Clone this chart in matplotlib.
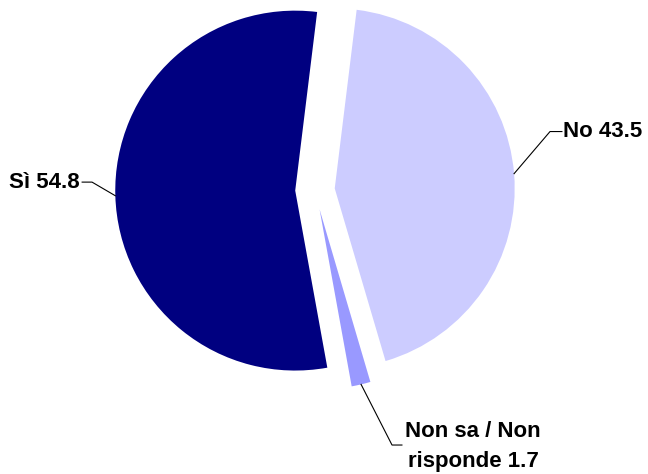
import numpy as np
import matplotlib
matplotlib.use("Agg")
import matplotlib.pyplot as plt

plt.rcParams['font.family'] = ['Liberation Sans', 'DejaVu Sans']

# data
labels = ["No", "Non sa / Non\nrisponde", "Sì"]
values = [43.5, 1.7, 54.8]
colors = ["#CCCCFF", "#9999FF", "#000080"]

# label placement (text pos, elbow pos, horizontal end, alignment)
text_pos = [(1.378, 0.325), (0.878, -1.425), (-1.306, 0.044)]
elbow_pos = [(1.306, 0.325), (0.428, -1.417), (-1.239, 0.044)]
hline_end = [1.372, 0.483, -1.294]
ha_list = ["left", "center", "right"]

fig = plt.figure(figsize=(6.48, 4.74), dpi=100)
ax = fig.add_axes([0, 0, 1, 1])

wedges, _ = ax.pie(values, colors=colors, startangle=83, counterclock=False,
                   explode=[0.11] * 3, radius=1.0,
                   wedgeprops=dict(linewidth=0))

for w, lab, val, tp, ep, he, ha in zip(wedges, labels, values, text_pos,
                                        elbow_pos, hline_end, ha_list):
    mid = np.deg2rad((w.theta1 + w.theta2) / 2)
    cx, cy = w.center
    ax_x = cx + w.r * np.cos(mid)
    ax_y = cy + w.r * np.sin(mid)
    ax.plot([ax_x, ep[0], he], [ax_y, ep[1], ep[1]], color="black", lw=0.8)
    ax.text(tp[0], tp[1], f"{lab} {val}", ha=ha, va="center",
            fontsize=16, fontweight="bold", linespacing=1.6)

ax.set_xlim(-1.75, 1.85)
ax.set_ylim(-1.578, 1.056)
ax.set_aspect("equal")
ax.axis("off")

fig.savefig("out.png", dpi=100)
